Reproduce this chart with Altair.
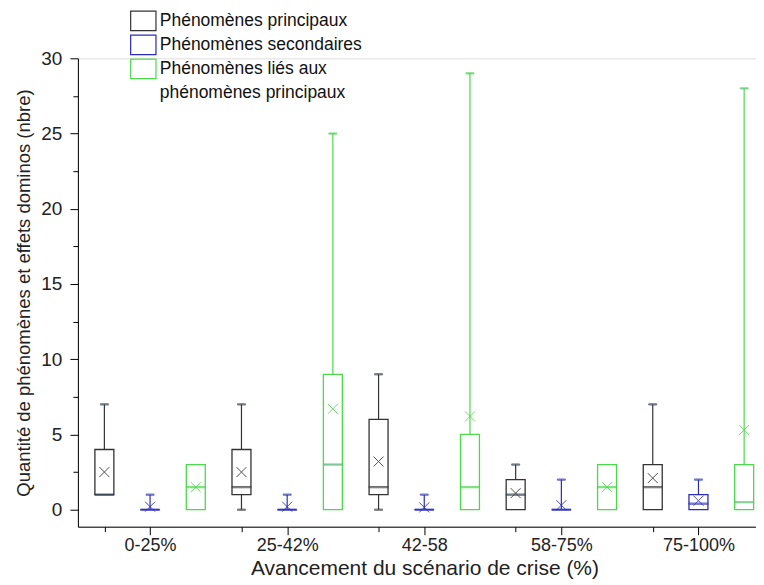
import altair as alt
import pandas as pd

groups = ["0-25%", "25-42%", "42-58", "58-75%", "75-100%"]
series = ["Phénomènes principaux", "Phénomènes secondaires",
          "Phénomènes liés aux phénomènes principaux"]
colors = ["#333333", "#2B2BB8", "#4CD94C"]

# Phénomènes principaux
p_min = [1, 0, 0, 0, 0]
p_q1 = [1, 1, 1, 0, 0]
p_med = [1, 1.5, 1.5, 1, 1.5]
p_q3 = [4, 4, 6, 2, 3]
p_max = [7, 7, 9, 3, 7]
p_mean = [2.5, 2.5, 3.2, 1.1, 2.1]

# Phénomènes secondaires
s_min = [0, 0, 0, 0, 0]
s_q1 = [0, 0, 0, 0, 0]
s_med = [0, 0, 0, 0, 0.4]
s_q3 = [0, 0, 0, 0, 1]
s_max = [1, 1, 1, 2, 2]
s_mean = [0.2, 0.2, 0.15, 0.3, 0.6]

# Phénomènes liés aux phénomènes principaux
l_min = [0, 0, 0, 0, 0]
l_q1 = [0, 0, 0, 0, 0]
l_med = [1.5, 3, 1.5, 1.5, 0.5]
l_q3 = [3, 9, 5, 3, 3]
l_max = [3, 25, 29, 3, 28]
l_mean = [1.5, 6.7, 6.2, 1.5, 5.3]

stats = [
    (p_min, p_q1, p_med, p_q3, p_max, p_mean),
    (s_min, s_q1, s_med, s_q3, s_max, s_mean),
    (l_min, l_q1, l_med, l_q3, l_max, l_mean),
]

rows = []
for si, (mn, q1, md, q3, mx, me) in enumerate(stats):
    for gi, g in enumerate(groups):
        rows.append(dict(group=g, gi=gi, series=series[si], si=si,
                         vmin=mn[gi], q1=q1[gi], med=md[gi], q3=q3[gi],
                         vmax=mx[gi], mean=me[gi]))
df = pd.DataFrame(rows)

FONT = "Liberation Sans"
label_expr = " : ".join(
    f"datum.value == {gi * 3 + 1} ? '{g}'" for gi, g in enumerate(groups)) + " : ''"
x_ticks = []
for gi in range(len(groups)):
    x_ticks += [gi * 3, gi * 3 + 1]

xscale = alt.Scale(domain=[-0.47, 14.15], nice=False, zero=False)
yscale = alt.Scale(domain=[-1.13, 30], nice=False, zero=False)

xaxis = alt.Axis(values=x_ticks, labelExpr=label_expr, grid=False,
                 title="Avancement du scénario de crise (%)",
                 tickSize={"condition": {"test": "(datum.value - 1) % 3 === 0", "value": 8}, "value": 5},
                 labelFontSize=18, titleFontSize=21, labelPadding=2, titlePadding=3,
                 titleX=347,
                 domainColor="#000", tickColor="#000", labelColor="#222", titleColor="#222",
                 labelFont=FONT, titleFont=FONT, titleFontWeight="normal", labelOverlap=False)
yaxis = alt.Axis(values=[v * 2.5 for v in range(13)],
                 labelExpr="datum.value % 5 === 0 ? datum.label : ''", grid=False,
                 title="Quantité de phénomènes et effets dominos (nbre)",
                 tickSize={"condition": {"test": "datum.value % 5 === 0", "value": 8}, "value": 5},
                 labelFontSize=19, titleFontSize=18.5, labelPadding=8, titlePadding=7,
                 domainColor="#000", tickColor="#000", labelColor="#222", titleColor="#222",
                 labelFont=FONT, titleFont=FONT, titleFontWeight="normal", labelOverlap=False)

X = alt.X("xpos:Q", scale=xscale, axis=xaxis)
stroke_scale = alt.Scale(domain=series, range=colors)

base = alt.Chart(df).transform_calculate(
    xpos="datum.gi * 3 + datum.si"
)

legend = alt.Legend(
    title=None, orient="none", legendX=55, legendY=-48,
    symbolType="M-1.3,-1L1.3,-1L1.3,1L-1.3,1Z", symbolSize=380,
    symbolStrokeWidth=1.2, symbolFillColor="white",
    labelFontSize=17.5, labelFont=FONT, labelColor="#111",
    labelExpr="datum.label == 'Phénomènes liés aux phénomènes principaux' ? ['Phénomènes liés aux', 'phénomènes principaux'] : datum.label",
    rowPadding=-1, labelOffset=6, padding=0, labelLimit=400)

S = alt.Stroke("series:N", scale=stroke_scale, legend=legend)

box = base.mark_bar(size=19, fill="white", strokeWidth=1.3).encode(
    x=X, y=alt.Y("q1:Q", scale=yscale, axis=yaxis), y2="q3:Q", stroke=S)
upper = base.transform_filter("datum.vmax > datum.q3").mark_rule(strokeWidth=1.2).encode(
    x=X, y=alt.Y("q3:Q", scale=yscale, axis=yaxis), y2="vmax:Q", stroke=S)
lower = base.transform_filter("datum.vmin < datum.q1").mark_rule(strokeWidth=1.2).encode(
    x=X, y=alt.Y("vmin:Q", scale=yscale, axis=yaxis), y2="q1:Q", stroke=S)
cap_hi = base.transform_filter("datum.vmax > datum.q3").mark_tick(
    orient="horizontal", size=8, thickness=1.2).encode(
    x=X, y=alt.Y("vmax:Q", scale=yscale, axis=yaxis), stroke=S)
cap_lo = base.transform_filter("datum.vmin < datum.q1").mark_tick(
    orient="horizontal", size=8, thickness=1.2).encode(
    x=X, y=alt.Y("vmin:Q", scale=yscale, axis=yaxis), stroke=S)
median = base.mark_tick(orient="horizontal", size=19, thickness=1.3).encode(
    x=X, y=alt.Y("med:Q", scale=yscale, axis=yaxis), stroke=S)
mean = base.mark_point(shape="M-1,-1L1,1M-1,1L1,-1", size=100, filled=False,
                       strokeWidth=1, opacity=0.85).encode(
    x=X, y=alt.Y("mean:Q", scale=yscale, axis=yaxis), stroke=S)

chart = alt.layer(box, upper, lower, cap_hi, cap_lo, median, mean).properties(
    width=679, height=469,
    autosize=alt.AutoSizeParams(type="none"),
    padding={"left": 70, "top": 50, "right": 0, "bottom": 58},
).configure_view(stroke=None).configure(
    font=FONT, style={"guide-label": {"lineHeight": 24}}
)

chart.save("out.html", embed_options={"renderer": "svg", "actions": False})
